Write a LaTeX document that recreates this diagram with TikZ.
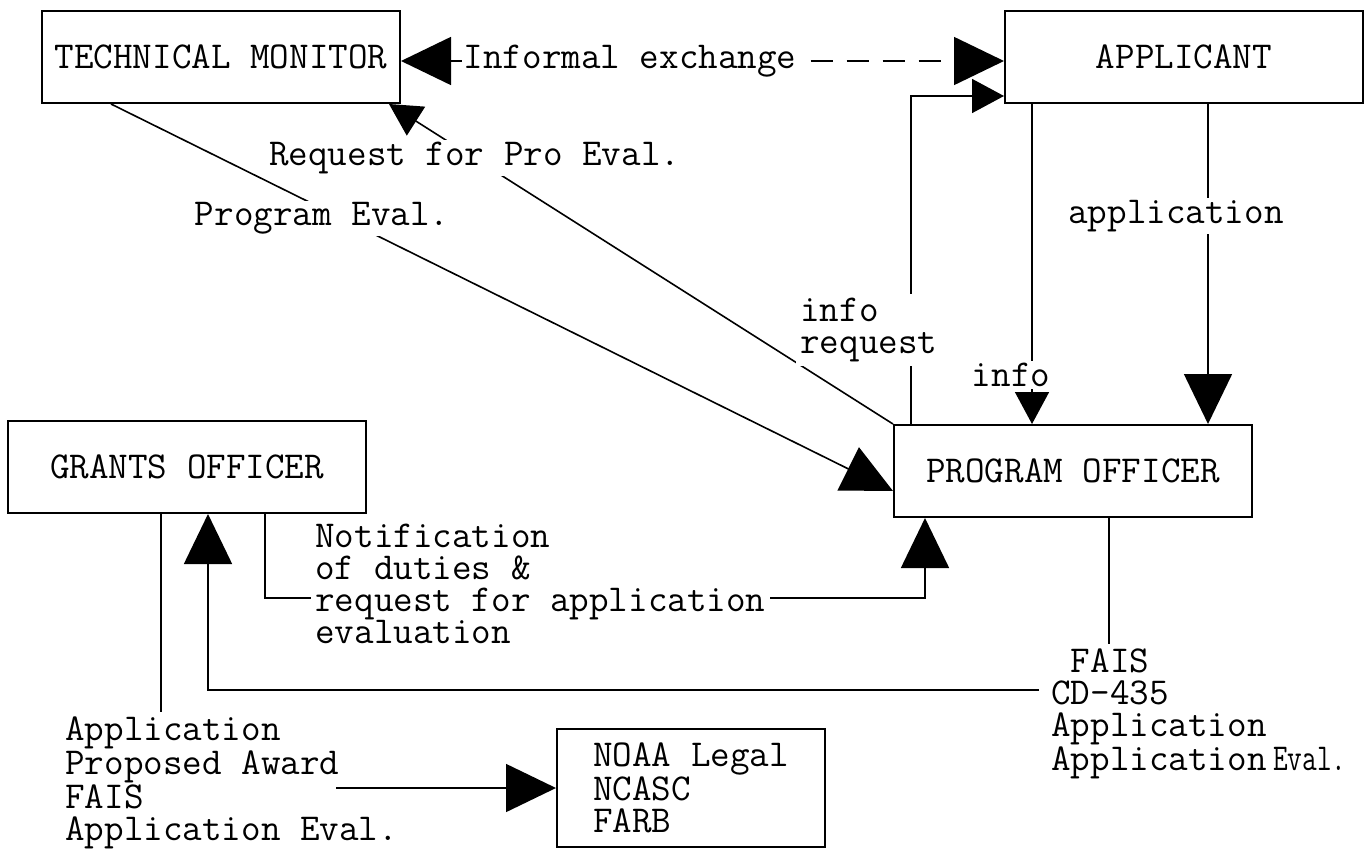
\documentclass[tikz,border=0pt]{standalone}
\usepackage{graphicx}
\usetikzlibrary{arrows.meta,positioning}

\begin{document}
\begin{tikzpicture}[x=0.5pt, y=-0.5pt, font=\ttfamily\fontsize{19}{16}\selectfont,
  unit/.style={draw, line width=1pt, minimum width=179pt, minimum height=46pt},
  flow/.style={line width=0.8pt},
  bigtip/.style={-{Triangle[length=25pt, width=24pt]}},
  midtip/.style={-{Triangle[length=16pt, width=17pt]}},
  note/.style={align=left, inner sep=2pt, fill=white},
  tag/.style={fill=white, inner sep=1pt}]

\useasboundingbox[fill=white] (0,0) rectangle (1364,856);

\node[unit] (tm) at (221,57) {TECHNICAL MONITOR};

\node[unit, right=301.5pt of tm] (app) {APPLICANT};

\node[unit] (po) at (1073,471) {PROGRAM OFFICER};

\node[unit, left=263pt of po, yshift=2pt] (go) {GRANTS OFFICER};

\node[unit, minimum width=134pt, minimum height=59pt, align=left] (noaa) at (691,788) {NOAA Legal\\NCASC\\FARB};

\node[note, anchor=north west] (appl) at (61,712) {Application\\Proposed Award\\FAIS\\Application Eval.};

\node[note, anchor=north west] (fais) at (1047,644) {\hphantom{F}FAIS\\CD-435\\Application\\Application\,\scalebox{0.75}[1]{Eval.}};

\draw[flow, dash pattern=on 11pt off 7pt, {Triangle[length=25pt, width=24pt]}-{Triangle[length=25pt, width=24pt]}] ([yshift=-2pt]tm.east) -- node[tag, pos=0.38] (lblinf) {Informal exchange} ([yshift=-2pt]app.west);

\draw[flow, midtip] (po.north west) -- node[tag, pos=0.83] (lblreq) {Request for Pro Eval.} ([xshift=-6pt]tm.south east);

\draw[flow, bigtip] ([xshift=35pt]tm.south west) -- node[tag, pos=0.27, yshift=-5pt] (lblprog) {Program Eval.} ([yshift=-10pt]po.west);

\coordinate (irq) at ([xshift=9pt]po.north west);
\draw[flow, midtip] (irq) |- ([yshift=4pt]app.south west);
\node[note, anchor=north west] (lblirq) at (796,294) {info\\request};

\coordinate (inf) at ([xshift=14pt]app.south west);
\draw[flow, midtip] (inf) -- (inf |- po.north);
\node[tag] (lblinfo) at (1011,375) {info};

\coordinate (apl) at ([xshift=12pt]app.south);
\draw[flow, bigtip] (apl) -- node[tag, pos=0.35, xshift=-16pt] (lblapl) {application} (apl |- po.north);

\coordinate (ntf) at (925,598);
\draw[flow, bigtip] ([xshift=39pt]go.south) |- (ntf) -- (ntf |- po.south);
\node[note, anchor=north west] (lblntf) at (311,520) {Notification\\of duties \&\\request for application\\evaluation};

\coordinate (fst) at ([xshift=18pt]po.south);
\draw[flow] (fst) -- (fst |- fais.north);

\coordinate (gin) at ([xshift=10.5pt]go.south);
\draw[flow, bigtip] ([shift={(-4pt,-23pt)}]fais.north west) -| (gin);

\coordinate (gout) at ([xshift=-13pt]go.south);
\draw[flow] (gout) -- (gout |- appl.north);

\coordinate (ast) at ([xshift=-33pt]appl.east);
\draw[flow, bigtip] (ast |- noaa.west) -- (noaa.west);
\end{tikzpicture}
\end{document}
